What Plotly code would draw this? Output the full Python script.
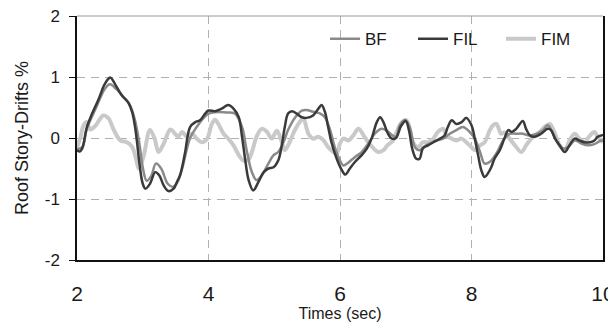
import plotly.graph_objects as go

# time (sec) and roof story-drift (%)
bf_t = [2.00, 2.08, 2.15, 2.30, 2.42, 2.50, 2.60, 2.70, 2.80, 2.88, 2.95, 3.00, 3.06, 3.13, 3.20,
        3.28, 3.38, 3.46, 3.53, 3.60, 3.72, 3.82, 3.92, 4.00, 4.08, 4.28, 4.40, 4.51, 4.58, 4.66,
        4.73, 4.81, 4.91, 4.99, 5.06, 5.14, 5.21, 5.32, 5.42, 5.49, 5.59, 5.70, 5.77, 5.85, 5.92,
        6.00, 6.05, 6.13, 6.23, 6.33, 6.43, 6.53, 6.63, 6.71, 6.79, 6.85, 6.91, 6.99, 7.06, 7.14,
        7.21, 7.28, 7.37, 7.47, 7.57, 7.67, 7.77, 7.87, 7.97, 8.05, 8.13, 8.20, 8.28, 8.38, 8.45,
        8.50, 8.58, 8.68, 8.78, 8.88, 8.99, 9.09, 9.16, 9.24, 9.32, 9.39, 9.47, 9.57, 9.67, 9.77,
        9.87, 9.97, 10.0]
bf_v = [-0.18, -0.15, 0.15, 0.52, 0.80, 0.88, 0.80, 0.68, 0.55, 0.30, -0.10, -0.48, -0.70, -0.62, -0.42,
        -0.50, -0.75, -0.80, -0.72, -0.50, 0.00, 0.18, 0.32, 0.40, 0.42, 0.42, 0.40, 0.18, -0.20, -0.56,
        -0.69, -0.61, -0.42, -0.28, -0.23, -0.07, 0.13, 0.34, 0.45, 0.46, 0.43, 0.40, 0.34, 0.13, -0.15,
        -0.37, -0.45, -0.40, -0.31, -0.23, -0.09, 0.07, 0.15, 0.12, 0.05, 0.02, 0.21, 0.30, 0.18, -0.15,
        -0.20, -0.14, -0.09, -0.04, -0.01, 0.07, 0.13, 0.18, 0.10, -0.01, -0.23, -0.42, -0.39, -0.25, -0.10,
        -0.01, 0.07, 0.07, 0.07, 0.04, 0.07, 0.13, 0.21, 0.07, -0.09, -0.17, -0.15, -0.04, -0.09, -0.12,
        -0.10, -0.04, -0.05]

fil_t = [2.00, 2.04, 2.08, 2.15, 2.23, 2.33, 2.41, 2.46, 2.51, 2.58, 2.68, 2.78, 2.84, 2.88, 2.91,
         2.95, 3.00, 3.04, 3.11, 3.19, 3.25, 3.32, 3.39, 3.47, 3.52, 3.57, 3.64, 3.72, 3.80, 3.87,
         3.95, 4.00, 4.10, 4.20, 4.30, 4.38, 4.46, 4.51, 4.56, 4.61, 4.68, 4.76, 4.84, 4.91, 4.99,
         5.06, 5.11, 5.16, 5.21, 5.27, 5.34, 5.42, 5.49, 5.59, 5.67, 5.72, 5.77, 5.82, 5.87, 5.95,
         6.03, 6.08, 6.15, 6.23, 6.33, 6.41, 6.48, 6.56, 6.61, 6.66, 6.73, 6.79, 6.85, 6.93, 7.00,
         7.05, 7.10, 7.16, 7.21, 7.26, 7.34, 7.42, 7.52, 7.59, 7.64, 7.70, 7.77, 7.85, 7.92, 8.00,
         8.05, 8.10, 8.15, 8.20, 8.25, 8.30, 8.35, 8.43, 8.50, 8.56, 8.61, 8.68, 8.78, 8.83, 8.89,
         8.96, 9.06, 9.16, 9.21, 9.27, 9.34, 9.42, 9.49, 9.57, 9.64, 9.72, 9.80, 9.87, 9.92, 10.0]
fil_v = [-0.20, -0.22, -0.17, 0.18, 0.40, 0.64, 0.86, 0.95, 0.99, 0.88, 0.70, 0.58, 0.42, 0.20, -0.04,
         -0.42, -0.75, -0.83, -0.75, -0.56, -0.61, -0.78, -0.87, -0.83, -0.72, -0.60, -0.26, 0.18, 0.26, 0.29,
         0.40, 0.45, 0.44, 0.48, 0.54, 0.48, 0.34, 0.02, -0.37, -0.69, -0.86, -0.72, -0.56, -0.50, -0.48,
         -0.37, -0.15, 0.18, 0.40, 0.44, 0.40, 0.34, 0.33, 0.37, 0.48, 0.54, 0.43, 0.18, -0.07, -0.34,
         -0.53, -0.60, -0.50, -0.39, -0.28, -0.17, -0.01, 0.26, 0.34, 0.26, 0.07, -0.01, 0.00, 0.20, 0.28,
         0.12, -0.18, -0.34, -0.34, -0.17, -0.12, -0.07, -0.01, 0.04, 0.18, 0.29, 0.23, 0.26, 0.33, 0.21,
         -0.01, -0.28, -0.53, -0.64, -0.58, -0.48, -0.34, -0.20, -0.01, 0.13, 0.10, 0.15, 0.28, 0.15, 0.04,
         0.02, 0.07, 0.15, 0.13, -0.01, -0.12, -0.23, -0.12, -0.01, -0.04, -0.07, -0.07, -0.04, 0.02, 0.05]

fim_t = [2.00, 2.05, 2.10, 2.15, 2.20, 2.28, 2.40, 2.48, 2.56, 2.66, 2.76, 2.84, 2.90, 2.94, 3.01,
         3.11, 3.18, 3.24, 3.32, 3.42, 3.49, 3.54, 3.60, 3.67, 3.75, 3.82, 3.90, 3.98, 4.05, 4.10,
         4.15, 4.23, 4.30, 4.38, 4.46, 4.53, 4.61, 4.66, 4.73, 4.81, 4.89, 4.96, 5.04, 5.11, 5.16,
         5.22, 5.30, 5.38, 5.44, 5.52, 5.59, 5.67, 5.75, 5.82, 5.90, 5.95, 6.00, 6.05, 6.13, 6.20,
         6.28, 6.36, 6.43, 6.51, 6.58, 6.66, 6.72, 6.80, 6.87, 6.94, 7.01, 7.06, 7.11, 7.19, 7.26,
         7.34, 7.42, 7.49, 7.57, 7.62, 7.70, 7.77, 7.85, 7.92, 8.00, 8.05, 8.13, 8.20, 8.28, 8.33,
         8.38, 8.45, 8.50, 8.58, 8.66, 8.76, 8.83, 8.91, 9.01, 9.11, 9.19, 9.27, 9.34, 9.42, 9.49,
         9.57, 9.64, 9.72, 9.80, 9.87, 9.92, 10.0]
fim_v = [-0.15, 0.00, 0.21, 0.26, 0.14, 0.20, 0.37, 0.32, 0.13, -0.04, -0.07, -0.15, -0.35, -0.50, -0.31,
         0.13, -0.01, -0.23, -0.09, 0.14, 0.07, 0.02, 0.10, 0.02, 0.07, -0.01, -0.07, -0.01, 0.23, 0.30,
         0.23, 0.07, -0.01, -0.12, -0.28, -0.37, -0.35, -0.23, 0.02, 0.15, 0.10, -0.01, 0.12, -0.05, -0.20,
         -0.10, 0.10, 0.25, 0.32, 0.07, -0.01, 0.02, -0.04, -0.15, -0.23, -0.26, -0.09, -0.01, -0.04, 0.04,
         0.15, 0.04, -0.07, -0.17, -0.23, -0.20, -0.12, -0.05, 0.12, 0.26, 0.29, 0.15, -0.07, -0.15, -0.07,
         -0.07, -0.01, 0.10, 0.15, 0.04, -0.01, -0.04, -0.01, -0.07, -0.15, -0.20, -0.12, -0.07, 0.13, 0.21,
         0.23, 0.07, 0.09, -0.01, -0.12, -0.23, -0.12, -0.01, 0.07, 0.18, 0.23, 0.07, -0.12, -0.20, -0.04,
         0.07, -0.01, -0.07, 0.04, 0.10, 0.02, -0.07]

x_ticks = [2, 4, 6, 8, 10]
y_ticks = [-2, -1, 0, 1, 2]
y_tick_labels = ["-2", "-1", "0", "1", "2"]

font = "Liberation Sans, Arial, sans-serif"

fig = go.Figure()
# FIM drawn first so the darker lines sit on top of it
fig.add_trace(go.Scatter(x=fim_t, y=fim_v, name="FIM", mode="lines", line_shape="spline",
                         line=dict(color="#c9c9c9", width=4), legendrank=3))
fig.add_trace(go.Scatter(x=bf_t, y=bf_v, name="BF", mode="lines", line_shape="spline",
                         line=dict(color="#8a8a8a", width=2.5), legendrank=1))
fig.add_trace(go.Scatter(x=fil_t, y=fil_v, name="FIL", mode="lines", line_shape="spline",
                         line=dict(color="#3a3a3a", width=2.5), legendrank=2))

# the page body has an 8px margin, so the figure is 8px smaller than the window
fig.update_layout(
    width=608, height=314,
    margin=dict(l=69, r=13, t=8, b=62),
    paper_bgcolor="white", plot_bgcolor="white",
    font=dict(family=font, color="#1a1a1a"),
    showlegend=True,
    legend=dict(orientation="h", x=0.4715, y=0.905, xanchor="left", yanchor="middle",
                font=dict(size=17, color="#1a1a1a"), bgcolor="rgba(0,0,0,0)",
                entrywidth=43, traceorder="normal"),
    xaxis=dict(range=[2, 10], tickvals=x_ticks, showgrid=True, gridcolor="#b0b0b0",
               griddash="8px,6px", gridwidth=1, zeroline=False, automargin=False,
               showline=True, linecolor="#111", linewidth=1.5, mirror=False,
               ticks="", tickfont=dict(size=21), ticklabelstandoff=14,
               ticklabeloverflow="allow",
               title=dict(text="Times (sec)", font=dict(size=16), standoff=0)),
    yaxis=dict(range=[-2, 2], tickvals=y_ticks, ticktext=y_tick_labels, showgrid=True,
               gridcolor="#b0b0b0", griddash="8px,6px", gridwidth=1, zeroline=False,
               automargin=False, showline=True, linecolor="#111", linewidth=1.5, mirror=True,
               ticks="outside", ticklen=6, tickcolor="#111", tickwidth=1,
               tickfont=dict(size=17), ticklabelstandoff=6,
               ticklabeloverflow="allow",
               title=dict(text="Roof Story-Drifts %", font=dict(size=18), standoff=11)),
    shapes=[dict(type="line", xref="paper", yref="paper", x0=0, x1=1, y0=1, y1=1,
                 line=dict(color="#999", width=1))],
)

fig.write_html("out.html")
